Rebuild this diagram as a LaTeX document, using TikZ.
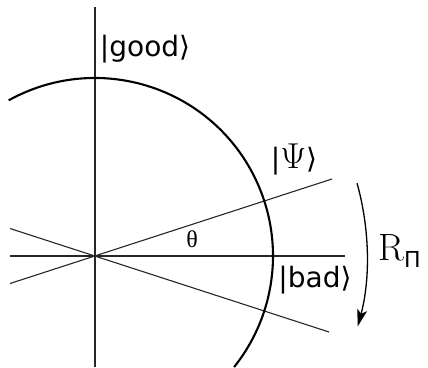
\documentclass[tikz,border=0pt]{standalone}
\usepackage{fix-cm}
\usepackage{fontspec}
\usetikzlibrary{arrows.meta,calc}
\newfontfamily\dvs{DejaVu Sans}
\newfontfamily\lser{Liberation Serif}
\begin{document}
\begin{tikzpicture}[x=1pt,y=-1pt,
  axis/.style={line width=1.1pt,black!85},
  circ/.style={line width=2.1pt},
  lab/.style={inner sep=0pt,font=\dvs\fontsize{28}{32}\selectfont}]
\useasboundingbox (0,0) rectangle (428,367);
\coordinate (O) at (95,256);
\coordinate (vt) at (95,7);
\coordinate (vb) at (95,367);
\coordinate (hl) at (10,256);
\coordinate (hr) at (345,256);
\coordinate (pl) at (10,283.5);
\coordinate (pr) at (332,179);
\coordinate (ml) at (10,228.5);
\coordinate (mr) at (329,332);
\draw[axis] (vt) -- (vb);
\draw[axis] (hl) -- (hr);
\draw[axis] (pl) -- (pr);
\draw[axis] (ml) -- (mr);
\draw[circ] ($(O)+(-119:178)$) arc[start angle=-119,end angle=38.6,radius=178];
\draw[line width=1.3pt,-{Stealth[length=17pt,width=10pt,inset=4pt]}]
  ($(O)+(-15.5:272)$) arc[start angle=-15.5,end angle=15,radius=272];
\node[lab] (good) at (145,49) {|good\char"27E9};
\node[lab] (psi) at (294,160) {|{\fontsize{36}{38}\selectfont$\Psi$}\char"27E9};
\node[lab] (bad) at (315,280) {|bad\char"27E9};
\node[inner sep=0pt,font=\lser\fontsize{24}{26}\selectfont] (th) at (192,239) {θ};
\node[inner sep=0pt,anchor=base west] (R) at (378,260) {\fontsize{38}{40}\selectfont R\raisebox{-7pt}{\dvs\fontsize{22}{24}\selectfont Π}};
\end{tikzpicture}
\end{document}
